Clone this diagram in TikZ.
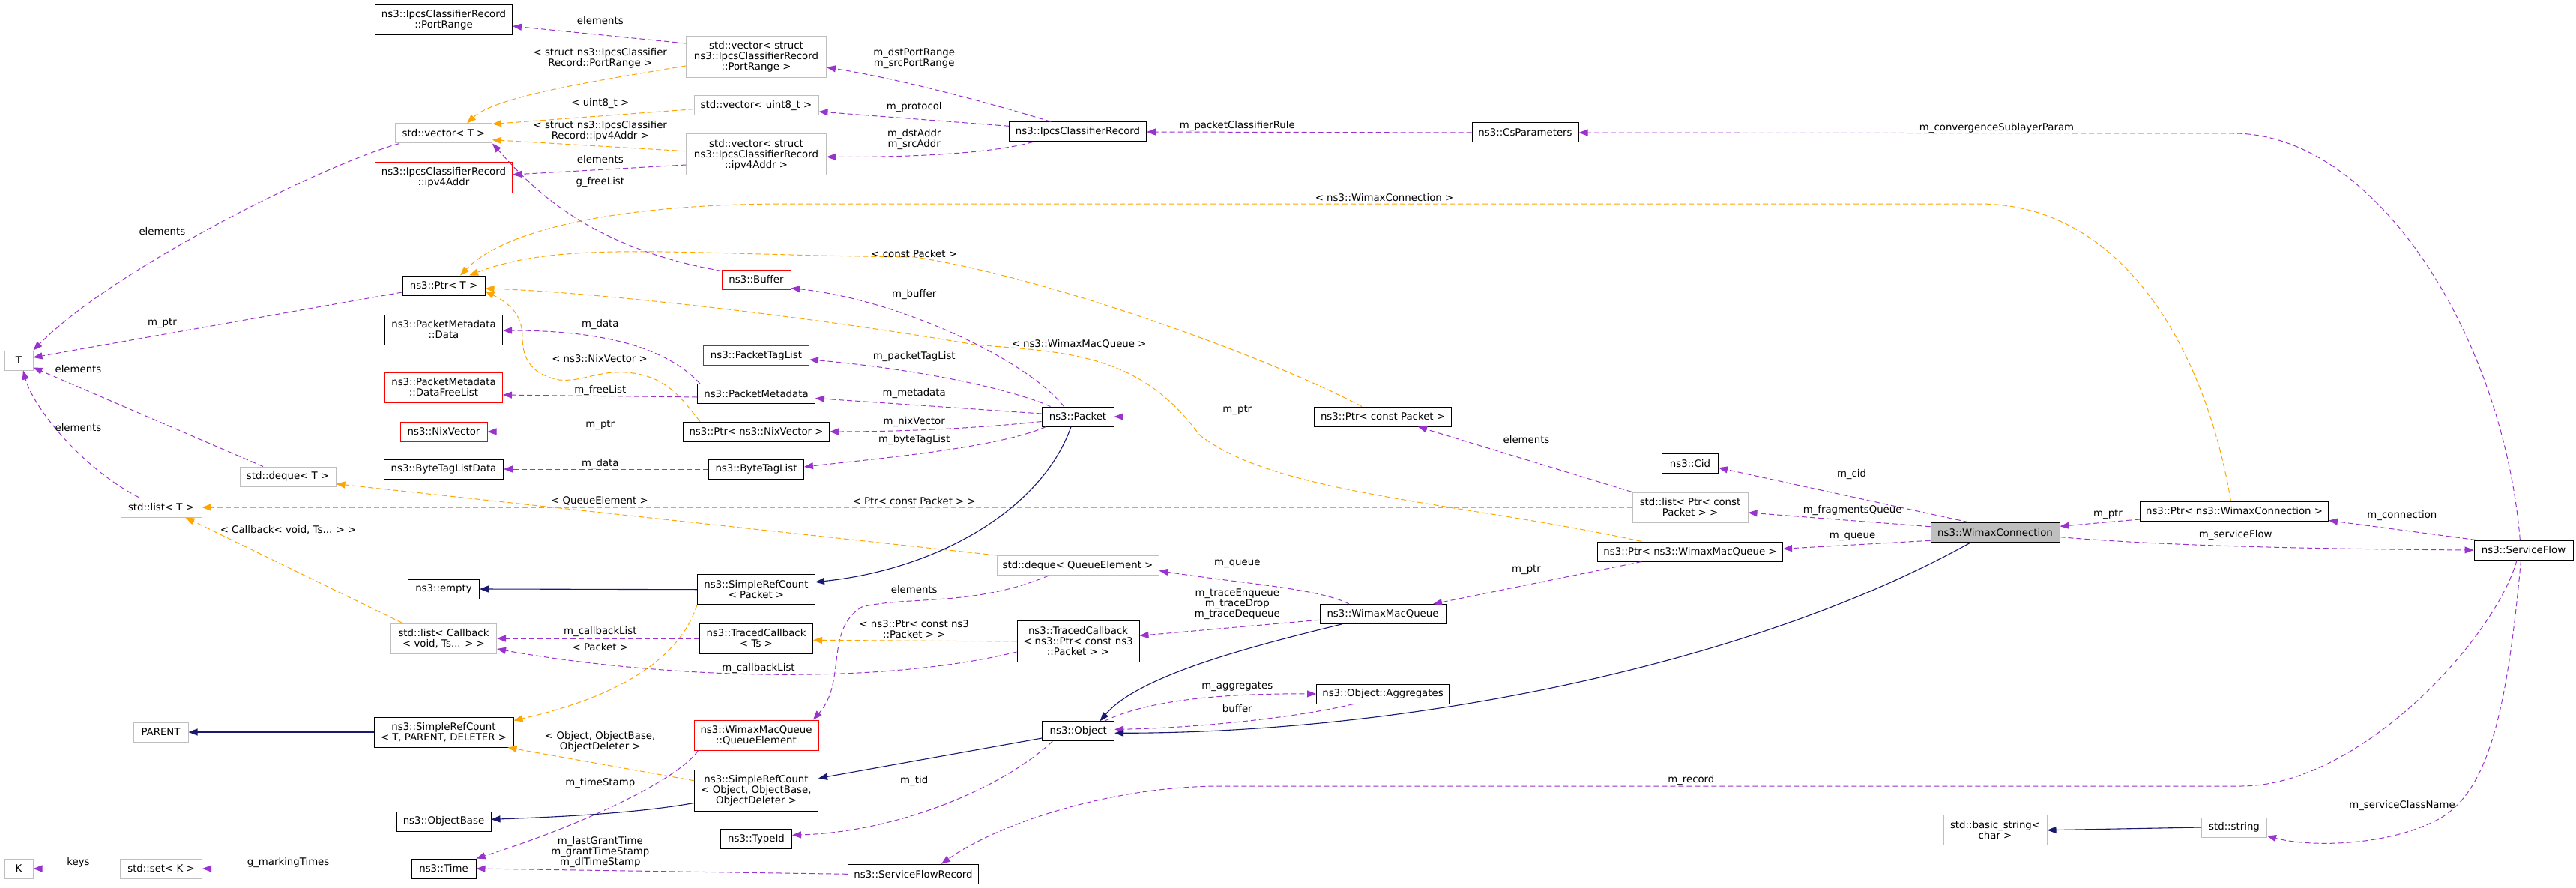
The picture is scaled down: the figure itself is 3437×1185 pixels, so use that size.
\documentclass[tikz,border=0pt]{standalone}
\usepackage{fontspec}
\setmainfont{DejaVu Sans}
\usetikzlibrary{arrows.meta}
\definecolor{purp}{HTML}{9A32CD}
\definecolor{orng}{HTML}{FFA500}
\definecolor{navyb}{HTML}{191970}
\definecolor{grayb}{HTML}{BFBFBF}
\tikzset{
 box/.style={rectangle, inner sep=0pt, align=center, line width=1pt, fill=white},
 bbox/.style={box, draw=black},
 gbox/.style={box, draw=grayb},
 rbox/.style={box, draw=red},
 cur/.style={box, draw=black, fill=grayb},
 tip/.style={-{Triangle[length=12pt,width=9pt]}},
 pu/.style={draw=purp, line width=1pt, dash pattern=on 7pt off 4pt, tip, purp},
 og/.style={draw=orng, line width=1pt, dash pattern=on 7pt off 4pt, tip, orng},
 inh/.style={draw=navyb, line width=1.1pt, tip, navyb},
 lab/.style={inner sep=0pt, align=center}
}
\begin{document}
\begin{tikzpicture}[x=1pt,y=-1pt,font=\fontsize{13.3}{14}\selectfont]
\fill[white] (0,0) rectangle (3437,1185);
\useasboundingbox (0,0) rectangle (3437,1185);
% nodes
\node[bbox, minimum width=183pt, minimum height=40pt] (pr) at (592,27) {ns3::IpcsClassifierRecord\\::PortRange};
\node[gbox, minimum width=129pt, minimum height=26pt] (vt) at (592,178) {std::vector< T >};
\node[rbox, minimum width=183pt, minimum height=40pt] (ip) at (592,237) {ns3::IpcsClassifierRecord\\::ipv4Addr};
\node[bbox, minimum width=110pt, minimum height=26pt] (pt) at (592,381) {ns3::Ptr< T >};
\node[gbox, minimum width=38pt, minimum height=26pt] (T) at (25,481) {T};
\node[bbox, minimum width=157pt, minimum height=40pt] (pmd) at (592,440) {ns3::PacketMetadata\\::Data};
\node[rbox, minimum width=157pt, minimum height=40pt] (pmf) at (592,517) {ns3::PacketMetadata\\::DataFreeList};
\node[rbox, minimum width=116pt, minimum height=26pt] (nv) at (592,576) {ns3::NixVector};
\node[bbox, minimum width=159pt, minimum height=26pt] (btd) at (592,626) {ns3::ByteTagListData};
\node[gbox, minimum width=128pt, minimum height=26pt] (dqt) at (384,636) {std::deque< T >};
\node[gbox, minimum width=108pt, minimum height=26pt] (lt) at (215,677) {std::list< T >};
\node[bbox, minimum width=95pt, minimum height=26pt] (emp) at (592,786) {ns3::empty};
\node[gbox, minimum width=141pt, minimum height=40pt] (lcb) at (592,852) {std::list< Callback\\< void, Ts... > >};
\node[gbox, minimum width=73pt, minimum height=26pt] (par) at (214.5,977) {PARENT};
\node[bbox, minimum width=186pt, minimum height=40pt] (srct) at (592,977) {ns3::SimpleRefCount\\< T, PARENT, DELETER >};
\node[bbox, minimum width=126pt, minimum height=26pt] (ob) at (592,1096) {ns3::ObjectBase};
\node[bbox, minimum width=86pt, minimum height=26pt] (tm) at (592,1159) {ns3::Time};
\node[gbox, minimum width=109pt, minimum height=26pt] (sk) at (215,1159) {std::set< K >};
\node[gbox, minimum width=38pt, minimum height=26pt] (K) at (25,1159) {K};
\node[gbox, minimum width=187pt, minimum height=55pt] (vpr) at (1009,76) {std::vector< struct\\ ns3::IpcsClassifierRecord\\::PortRange >};
\node[gbox, minimum width=166pt, minimum height=26pt] (vu8) at (1009,141) {std::vector< uint8\_t >};
\node[gbox, minimum width=187pt, minimum height=55pt] (vip) at (1009,206.5) {std::vector< struct\\ ns3::IpcsClassifierRecord\\::ipv4Addr >};
\node[bbox, minimum width=183pt, minimum height=26pt] (icr) at (1438,176) {ns3::IpcsClassifierRecord};
\node[rbox, minimum width=92pt, minimum height=26pt] (buf) at (1009,373) {ns3::Buffer};
\node[bbox, minimum width=142pt, minimum height=26pt] (csp) at (2035,177) {ns3::CsParameters};
\node[rbox, minimum width=141pt, minimum height=26pt] (ptl) at (1009,474.5) {ns3::PacketTagList};
\node[bbox, minimum width=157pt, minimum height=26pt] (pm) at (1009,525.5) {ns3::PacketMetadata};
\node[bbox, minimum width=195pt, minimum height=26pt] (pnv) at (1009,576) {ns3::Ptr< ns3::NixVector >};
\node[bbox, minimum width=127pt, minimum height=26pt] (btl) at (1009,626) {ns3::ByteTagList};
\node[bbox, minimum width=96pt, minimum height=26pt] (pk) at (1438,556) {ns3::Packet};
\node[gbox, minimum width=216pt, minimum height=26pt] (dqe) at (1438,754.5) {std::deque< QueueElement >};
\node[bbox, minimum width=157pt, minimum height=40pt] (srcp) at (1009,786.7) {ns3::SimpleRefCount\\< Packet >};
\node[bbox, minimum width=183pt, minimum height=26pt] (pcp) at (1845,556) {ns3::Ptr< const Packet >};
\node[bbox, minimum width=75pt, minimum height=26pt] (cid) at (2255,618.7) {ns3::Cid};
\node[gbox, minimum width=154pt, minimum height=40pt] (lpcp) at (2255,677) {std::list< Ptr< const\\ Packet > >};
\node[bbox, minimum width=247pt, minimum height=26pt] (pwmq) at (2255,736) {ns3::Ptr< ns3::WimaxMacQueue >};
\node[cur, minimum width=172pt, minimum height=26pt] (wc) at (2662,710.3) {ns3::WimaxConnection};
\node[bbox, minimum width=251pt, minimum height=26pt] (pwc) at (2981,682) {ns3::Ptr< ns3::WimaxConnection >};
\node[bbox, minimum width=132pt, minimum height=26pt] (sf) at (3367,734) {ns3::ServiceFlow};
\node[bbox, minimum width=168pt, minimum height=26pt] (wmq) at (1845,819.5) {ns3::WimaxMacQueue};
\node[bbox, minimum width=151pt, minimum height=40pt] (tct) at (1009,852) {ns3::TracedCallback\\< Ts >};
\node[bbox, minimum width=163pt, minimum height=55pt] (tcp) at (1438.5,856) {ns3::TracedCallback\\< ns3::Ptr< const ns3\\::Packet > >};
\node[bbox, minimum width=177pt, minimum height=26pt] (agg) at (1845,926) {ns3::Object::Aggregates};
\node[bbox, minimum width=96pt, minimum height=26pt] (obj) at (1438.7,975.7) {ns3::Object};
\node[rbox, minimum width=166pt, minimum height=40pt] (qe) at (1009,981) {ns3::WimaxMacQueue\\::QueueElement};
\node[bbox, minimum width=165pt, minimum height=55pt] (srco) at (1009,1054.5) {ns3::SimpleRefCount\\< Object, ObjectBase,\\ ObjectDeleter >};
\node[bbox, minimum width=95pt, minimum height=26pt] (tid) at (1009,1119.7) {ns3::TypeId};
\node[bbox, minimum width=174pt, minimum height=26pt] (sfr) at (1218.5,1166.3) {ns3::ServiceFlowRecord};
\node[gbox, minimum width=138pt, minimum height=40pt] (bs) at (2662,1107.7) {std::basic\_string<\\ char >};
\node[gbox, minimum width=87pt, minimum height=26pt] (str) at (2981,1104) {std::string};
% purple usage edges
\draw[pu] ([yshift=18pt]vpr.west) -- ([yshift=-8pt]pr.east);
\draw[pu] ([xshift=6pt]vt.south west) .. controls (430,220) and (150,360) .. (T.north east);
\draw[pu] ([yshift=-13.5pt]vip.west) -- ([yshift=4pt]ip.east);
\draw[pu] ([yshift=-2pt]buf.north west) .. controls (780,330) and (705,245) .. (vt.south east);
\draw[pu] ([yshift=-9pt]pt.west) -- ([yshift=4pt]T.east);
\draw[pu] ([xshift=-33pt]dqt.north) -- ([yshift=4pt]T.south east);
\draw[pu] ([xshift=-30pt]lt.north) .. controls (110,625) and (45,545) .. ([xshift=6pt]T.south);
\draw[pu] ([xshift=4pt]pm.north west) .. controls (895,470) and (820,441) .. ([yshift=-1pt]pmd.east);
\draw[pu] ([yshift=-4.5pt]pm.west) -- ([yshift=-10pt]pmf.east);
\draw[pu] (pnv.west) -- (nv.east);
\draw[pu] (btl.west) -- (btd.east);
\draw[pu] ([xshift=-18.5pt]pk.north) .. controls (1370,480) and (1200,400) .. ([yshift=2pt]buf.south east);
\draw[pu] ([xshift=12pt]pk.north west) .. controls (1340,515) and (1200,490) .. ([yshift=-5.5pt]ptl.east);
\draw[pu] ([yshift=4pt]pk.west) -- ([yshift=-6pt]pm.east);
\draw[pu] ([yshift=-6.5pt]pk.west) .. controls (1300,572) and (1200,576) .. (pnv.east);
\draw[pu] ([xshift=6pt]pk.south west) .. controls (1330,598) and (1170,612) .. ([yshift=3pt]btl.east);
\draw[pu] (pcp.west) -- (pk.east);
\draw[pu] (lpcp.north west) -- ([xshift=47pt]pcp.south);
\draw[pu] ([xshift=-35.5pt]wc.north) -- ([yshift=-5.6pt]cid.east);
\draw[pu] ([yshift=7.6pt]wc.west) -- ([yshift=-7pt]lpcp.east);
\draw[pu] ([yshift=-11pt]wc.west) -- ([yshift=3.7pt]pwmq.east);
\draw[pu] ([xshift=-64.7pt]pwmq.south) -- ([xshift=67pt]wmq.north);
\draw[pu] ([yshift=-11pt]pwc.west) -- ([yshift=8pt]wc.east);
\draw[pu] ([xshift=3pt]sf.north west) -- ([yshift=1pt]pwc.south east);
\draw[pu] ([yshift=-6.3pt]wc.east) .. controls (2900,730) and (3150,733) .. (sf.west);
\draw[pu] ([xshift=-4.7pt]sf.north) .. controls (3340,450) and (3170,178) .. (2980,178) -- (csp.east);
\draw[pu] (csp.west) -- (icr.east);
\draw[pu] ([xshift=-35.7pt]icr.north) .. controls (1330,140) and (1200,105) .. ([yshift=-14pt]vpr.east);
\draw[pu] ([yshift=7.7pt]icr.west) -- ([yshift=-8pt]vu8.east);
\draw[pu] ([xshift=32pt]icr.south west) .. controls (1320,206) and (1200,210) .. ([yshift=-2.8pt]vip.east);
\draw[pu] ([xshift=-45pt]wmq.north) .. controls (1760,785) and (1650,778) .. ([yshift=-7pt]dqe.east);
\draw[pu] ([yshift=-7.8pt]wmq.west) -- ([yshift=7.7pt]tcp.east);
\draw[pu] ([xshift=-38.6pt]dqe.south) .. controls (1300,810) and (1210,795) .. (1150,810) .. controls (1100,840) and (1130,910) .. ([xshift=-7.5pt]qe.north east);
\draw[pu] (tct.west) -- (lcb.east);
\draw[pu] ([yshift=-14pt]tcp.west) .. controls (1150,920) and (850,900) .. ([yshift=-14pt]lcb.east);
\draw[pu] ([xshift=35pt]obj.north) .. controls (1520,940) and (1600,925) .. (agg.west);
\draw[pu] ([xshift=50pt]agg.south west) .. controls (1720,960) and (1580,972) .. ([yshift=2.4pt]obj.east);
\draw[pu] ([xshift=14pt]obj.south west) .. controls (1340,1050) and (1200,1110) .. ([yshift=5.4pt]tid.east);
\draw[pu] ([xshift=-9pt]sf.south) .. controls (3330,850) and (3150,1049) .. (2990,1049) -- (1630,1049) .. controls (1480,1049) and (1330,1100) .. ([xshift=37.4pt]sfr.north);
\draw[pu] ([xshift=-3.5pt]sf.south) .. controls (3345,950) and (3320,1060) .. (3250,1095) .. controls (3180,1130) and (3080,1130) .. ([yshift=2pt]str.south east);
\draw[pu] (sfr.west) -- (tm.east);
\draw[pu] ([xshift=6pt]qe.south west) .. controls (905,1040) and (780,1100) .. (tm.north east);
\draw[pu] (tm.west) -- (sk.east);
\draw[pu] (sk.west) -- (K.east);
% orange template edges
\draw[og] ([yshift=-12pt]vpr.west) .. controls (780,110) and (660,130) .. ([xshift=31pt]vt.north);
\draw[og] ([yshift=-4.7pt]vu8.west) -- ([yshift=-1pt]vt.north east);
\draw[og] ([yshift=4.8pt]vip.west) -- ([yshift=-8.7pt]vt.east);
\draw[og] ([xshift=-28pt]pcp.north) .. controls (1700,480) and (1400,370) .. (1220,343) .. controls (900,340) and (750,320) .. ([xshift=34pt]pt.north);
\draw[og] ([xshift=-4.6pt]pwc.north) .. controls (2945,480) and (2840,272) .. (2640,272) -- (1050,272) .. controls (850,272) and (680,300) .. ([xshift=22pt]pt.north);
\draw[og] ([xshift=-64.7pt]pwmq.north) .. controls (1950,670) and (1700,660) .. (1600,580) .. controls (1520,470) and (1420,470) .. (1300,460) .. controls (1100,425) and (800,390) .. ([yshift=-4pt]pt.east);
\draw[og] ([xshift=23pt]pnv.north west) .. controls (915,540) and (895,505) .. (845,498) .. controls (800,492) and (780,510) .. (746,507) .. controls (710,500) and (697,480) .. (697,450) .. controls (697,420) and (680,405) .. ([yshift=6pt]pt.south east);
\draw[og] (lpcp.west) -- (lt.east);
\draw[og] (dqe.north west) -- ([yshift=-9.7pt]dqt.east);
\draw[og] ([xshift=-55pt]lcb.north) -- ([xshift=-22pt]lt.south east);
\draw[og] (srcp.south west) .. controls (900,900) and (780,940) .. ([yshift=-5pt]srct.north east);
\draw[og] ([yshift=12.8pt]srco.west) -- ([xshift=-8pt]srct.south east);
\draw[og] (tcp.west) -- ([yshift=-2.3pt]tct.east);
% inheritance
\draw[inh] ([xshift=-9pt]pk.south) .. controls (1390,680) and (1250,760) .. ([yshift=10pt]srcp.east);
\draw[inh] (srcp.west) -- (emp.east);
\draw[inh] (srct.west) -- (par.east);
\draw[inh] ([xshift=-55pt]wmq.south) .. controls (1680,860) and (1520,900) .. ([xshift=29pt]obj.north);
\draw[inh] ([xshift=-32.5pt]wc.south) .. controls (2350,880) and (1900,978) .. ([yshift=-2.6pt]obj.east);
\draw[inh] ([yshift=-9.3pt]obj.west) -- ([yshift=16pt]srco.east);
\draw[inh] ([yshift=-17pt]srco.west) .. controls (850,1085) and (750,1090) .. ([yshift=2.7pt]ob.east);
\draw[inh] (str.west) -- (bs.east);
% labels
\node[lab] (l1) at (800.8,27.7) {elements};
\node[lab] (l2) at (800.8,77.5) {< struct ns3::IpcsClassifier\\Record::PortRange >};
\node[lab] (l3) at (800.8,138.3) {< uint8\_t >};
\node[lab] (l4) at (800.8,175) {< struct ns3::IpcsClassifier\\Record::ipv4Addr >};
\node[lab] (l5) at (800.8,212.3) {elements};
\node[lab] (l6) at (800.8,243.3) {g\_freeList};
\node[lab] (l7) at (216.4,308.3) {elements};
\node[lab] (l8) at (216.4,431) {m\_ptr};
\node[lab] (l9) at (104.5,492.7) {elements};
\node[lab] (l10) at (104.5,570.7) {elements};
\node[lab] (l11) at (800.8,432.7) {m\_data};
\node[lab] (l12) at (800,478.7) {< ns3::NixVector >};
\node[lab] (l13) at (800.8,520.7) {m\_freeList};
\node[lab] (l14) at (800.8,567.7) {m\_ptr};
\node[lab] (l15) at (800.8,618.7) {m\_data};
\node[lab] (l16) at (800,668.3) {< QueueElement >};
\node[lab] (l17) at (384.6,707.3) {< Callback< void, Ts... > >};
\node[lab] (l18) at (800.8,843.3) {m\_callbackList};
\node[lab] (l19) at (800.8,863.3) {< Packet >};
\node[lab] (l20) at (800.8,989.7) {< Object, ObjectBase,\\ObjectDeleter >};
\node[lab] (l21) at (800.8,1045) {m\_timeStamp};
\node[lab] (l22) at (800.8,1137) {m\_lastGrantTime\\m\_grantTimeStamp\\m\_dlTimeStamp};
\node[lab] (l23) at (384.6,1150.7) {g\_markingTimes};
\node[lab] (l24) at (104.5,1150.7) {keys};
\node[lab] (l25) at (1219.7,77.7) {m\_dstPortRange\\m\_srcPortRange};
\node[lab] (l26) at (1219.7,142.7) {m\_protocol};
\node[lab] (l27) at (1219.7,185.8) {m\_dstAddr\\m\_srcAddr};
\node[lab] (l28) at (1650.8,167.7) {m\_packetClassifierRule};
\node[lab] (l29) at (1847,263.3) {< ns3::WimaxConnection >};
\node[lab] (l30) at (1219.7,338.3) {< const Packet >};
\node[lab] (l31) at (1219.7,392.7) {m\_buffer};
\node[lab] (l32) at (1439.6,459.3) {< ns3::WimaxMacQueue >};
\node[lab] (l33) at (1219.7,475.7) {m\_packetTagList};
\node[lab] (l34) at (1219.7,525) {m\_metadata};
\node[lab] (l35) at (1219.7,562.7) {m\_nixVector};
\node[lab] (l36) at (1219.7,587.3) {m\_byteTagList};
\node[lab] (l37) at (1650.8,547.7) {m\_ptr};
\node[lab] (l38) at (1219.7,668.3) {< Ptr< const Packet > >};
\node[lab] (l39) at (1650.8,752.7) {m\_queue};
\node[lab] (l40) at (1650.8,806.3) {m\_traceEnqueue\\m\_traceDrop\\m\_traceDequeue};
\node[lab] (l41) at (1219.7,786.7) {elements};
\node[lab] (l42) at (1219.7,839.2) {< ns3::Ptr< const ns3\\::Packet > >};
\node[lab] (l43) at (1012,891.7) {m\_callbackList};
\node[lab] (l44) at (1650.8,916) {m\_aggregates};
\node[lab] (l45) at (1650.8,945.7) {buffer};
\node[lab] (l46) at (1219.7,1042.3) {m\_tid};
\node[lab] (l47) at (2036.5,586.7) {elements};
\node[lab] (l48) at (2470.5,632.7) {m\_cid};
\node[lab] (l49) at (2471.6,681) {m\_fragmentsQueue};
\node[lab] (l50) at (2471.6,716.7) {m\_queue};
\node[lab] (l51) at (2036.5,760) {m\_ptr};
\node[lab] (l52) at (2812.5,686.7) {m\_ptr};
\node[lab] (l53) at (3204.9,687.7) {m\_connection};
\node[lab] (l54) at (2982.7,714.3) {m\_serviceFlow};
\node[lab] (l55) at (2664,170.7) {m\_convergenceSublayerParam};
\node[lab] (l56) at (2256.3,1040.7) {m\_record};
\node[lab] (l57) at (3205,1075) {m\_serviceClassName};
\end{tikzpicture}
\end{document}
